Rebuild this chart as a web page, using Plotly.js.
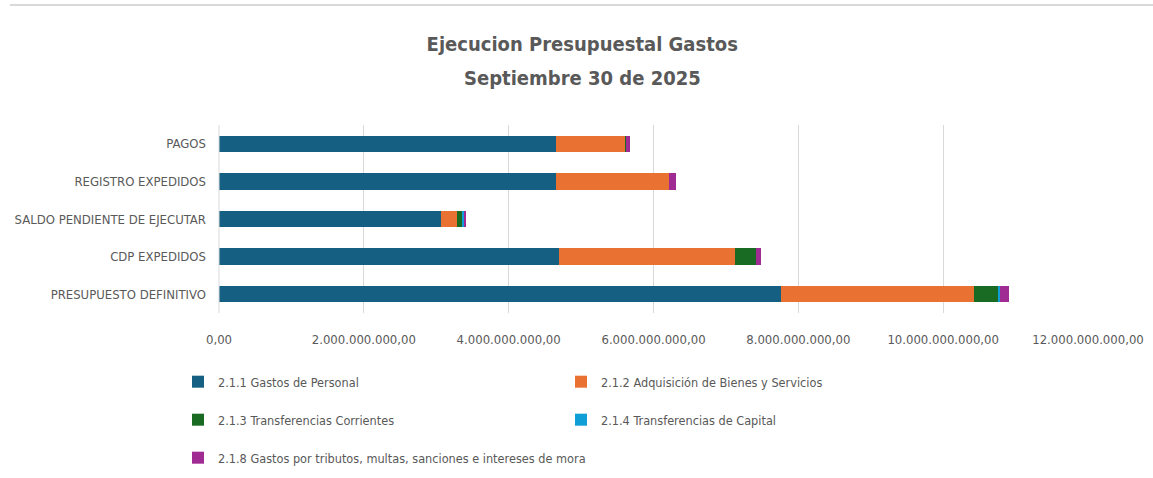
<!DOCTYPE html>
<html>
<head>
<meta charset="utf-8">
<script src="https://cdn.plot.ly/plotly-3.0.1.min.js"></script>
<style>
  html, body { margin: 0; padding: 0; background: #fff; }
  #chart { width: 1153px; height: 478px; }
</style>
</head>
<body>
<div id="chart"></div>
<script>
// categories, bottom to top as Plotly stacks them
var categorias = ['PRESUPUESTO DEFINITIVO', 'CDP EXPEDIDOS', 'SALDO PENDIENTE DE EJECUTAR', 'REGISTRO EXPEDIDOS', 'PAGOS'];

var gastosPersonal = [7760000000, 4700000000, 3060000000, 4660000000, 4660000000];
var adquisicionBienes = [2660000000, 2430000000, 230000000, 1550000000, 940000000];
var transfCorrientes = [340000000, 280000000, 60000000, 10000000, 15000000];
var transfCapital = [30000000, 0, 30000000, 0, 0];
var tributosMultas = [115000000, 80000000, 35000000, 85000000, 60000000];

var xTicks = [0, 2000000000, 4000000000, 6000000000, 8000000000, 10000000000, 12000000000];

var tituloLinea1 = 'Ejecucion Presupuestal Gastos';
var tituloLinea2 = 'Septiembre 30 de 2025';

var font = 'Liberation Sans Narrow, DejaVu Sans Condensed, Arial Narrow, sans-serif';
var grey = '#595959';

function serie(nombre, valores, color, legendId) {
    return {
        type: 'bar',
        orientation: 'h',
        name: nombre,
        y: categorias,
        x: valores,
        marker: { color: color, line: { width: 0 } },
        legend: legendId,
        hoverinfo: 'x+name'
    };
}

var data = [
    serie('2.1.1 Gastos de Personal', gastosPersonal, '#156082', 'legend'),
    serie('2.1.2 Adquisición de Bienes y Servicios', adquisicionBienes, '#E97132', 'legend2'),
    serie('2.1.3 Transferencias Corrientes', transfCorrientes, '#196B24', 'legend3'),
    serie('2.1.4 Transferencias de Capital', transfCapital, '#0F9ED5', 'legend4'),
    serie('2.1.8 Gastos por tributos, multas, sanciones e intereses de mora', tributosMultas, '#A02B93', 'legend5')
];

// one legend per entry so each sits where Excel put it
function leyenda(xpx, ypx) {
    return {
        xref: 'container', yref: 'container',
        x: xpx / 1153, y: 1 - ypx / 478,
        xanchor: 'left', yanchor: 'middle',
        orientation: 'h',
        bgcolor: 'rgba(0,0,0,0)',
        font: { family: font, size: 12.6, color: grey },
        itemwidth: 30
    };
}

var layout = {
    width: 1153,
    height: 478,
    paper_bgcolor: '#fff',
    plot_bgcolor: '#fff',
    separators: ',.',
    barmode: 'stack',
    bargap: 0.56,
    margin: { l: 219, r: 65, t: 125, b: 165 },
    font: { family: font, color: grey },
    title: {
        text: '<b>' + tituloLinea1 + '</b>',
        font: { family: font, size: 20, color: grey },
        xref: 'container', yref: 'container',
        x: 0.505, y: 1 - 44 / 478,
        xanchor: 'center', yanchor: 'middle'
    },
    annotations: [{
        text: '<b>' + tituloLinea2 + '</b>',
        font: { family: font, size: 20, color: grey },
        xref: 'paper', yref: 'paper',
        x: (582 - 219) / 869, y: (313 - 78) / 188,
        xanchor: 'center', yanchor: 'middle',
        showarrow: false
    }],
    xaxis: {
        range: [0, 12000000000],
        tickvals: xTicks,
        tickformat: ',.2f',
        showgrid: true,
        gridcolor: '#d9d9d9',
        gridwidth: 1,
        zeroline: false,
        showline: false,
        ticks: '',
        ticklabelstandoff: 17,
        tickfont: { family: font, size: 13, color: grey }
    },
    yaxis: {
        type: 'category',
        showgrid: false,
        zeroline: false,
        showline: false,
        ticks: '',
        ticklabelstandoff: 12,
        tickfont: { family: font, size: 13, color: grey }
    },
    showlegend: true,
    legend: leyenda(178, 382),
    legend2: leyenda(561, 382),
    legend3: leyenda(178, 420),
    legend4: leyenda(561, 420),
    legend5: leyenda(178, 458),
    shapes: [
        {
            type: 'line', xref: 'paper', yref: 'paper',
            x0: 0, x1: 0, y0: 0, y1: 1,
            line: { color: '#d9d9d9', width: 1 }
        },
        {
            type: 'line', xref: 'paper', yref: 'paper',
            x0: (10 - 219) / 869, x1: (1153 - 219) / 869,
            y0: (313 - 5) / 188, y1: (313 - 5) / 188,
            line: { color: '#d9d9d9', width: 2 }
        }
    ]
};

Plotly.newPlot('chart', data, layout, { displayModeBar: false, staticPlot: true });
</script>
</body>
</html>
